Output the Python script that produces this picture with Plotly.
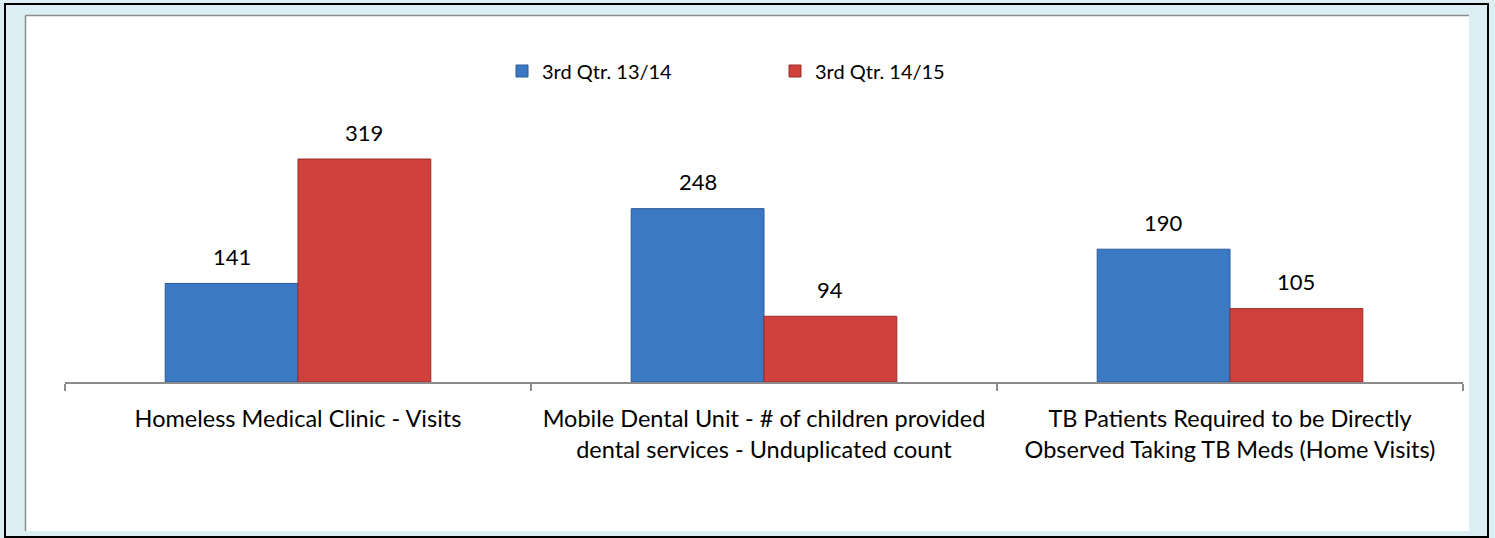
import plotly.graph_objects as go

categories = [
    "Homeless Medical Clinic - Visits",
    "Mobile Dental Unit - # of children provided<br>dental services - Unduplicated count",
    "TB Patients Required to be Directly<br>Observed Taking TB Meds (Home Visits)",
]
series_names = ["3rd Qtr. 13/14", "3rd Qtr. 14/15"]
values_1314 = [141, 248, 190]
values_1415 = [319, 94, 105]

colors = ["#3c79c4", "#d0403c"]
line_colors = ["#2a5a96", "#9c2c29"]

W, H = 1495, 538
ML, MR, MT, MB = 65, 32, 100, 156
PW = W - ML - MR
PH = H - MT - MB
BARGAP = 0.43
FONT = "Lato, Calibri, Carlito, sans-serif"
FS = 22

def px_x(p):
    return (p - ML) / PW

def px_y(p):
    return (H - MB - p) / PH

fig = go.Figure()
for name, vals, c, lc in zip(series_names, [values_1314, values_1415], colors, line_colors):
    fig.add_trace(go.Bar(
        name=name, x=categories, y=vals,
        marker=dict(color=c, line=dict(color=lc, width=1)),
    ))

# value labels above bars
cat_w = PW / len(categories)
bar_w = cat_w * (1 - BARGAP) / 2
for k, vals in enumerate([values_1314, values_1415]):
    shift = (k - 0.5) * bar_w
    for cat, v in zip(categories, vals):
        fig.add_annotation(x=cat, y=v, text=str(v), showarrow=False,
                           xshift=shift, yshift=27, yanchor="middle",
                           font=dict(family=FONT, size=FS, color="#000000"))

shapes = [
    dict(type="rect", xref="paper", yref="paper", x0=px_x(5), x1=px_x(1488),
         y0=px_y(537), y1=px_y(4), line=dict(color="#000000", width=2),
         fillcolor="#dbeef3", layer="below"),
    dict(type="rect", xref="paper", yref="paper", x0=px_x(25), x1=px_x(1469),
         y0=px_y(531), y1=px_y(15), line=dict(width=0),
         fillcolor="#ffffff", layer="below"),
    dict(type="line", xref="paper", yref="paper", x0=px_x(25.5), x1=px_x(25.5),
         y0=px_y(531), y1=px_y(15.5), line=dict(color="#8c8c8c", width=1.5), layer="below"),
    dict(type="line", xref="paper", yref="paper", x0=px_x(25.5), x1=px_x(1469),
         y0=px_y(15.5), y1=px_y(15.5), line=dict(color="#8c8c8c", width=1.5), layer="below"),
]

fig.update_layout(
    width=W, height=H,
    margin=dict(l=ML, r=MR, t=MT, b=MB),
    paper_bgcolor="#dbeef3",
    plot_bgcolor="rgba(0,0,0,0)",
    barmode="group",
    bargap=BARGAP,
    bargroupgap=0,
    shapes=shapes,
    font=dict(family=FONT, size=FS, color="#000000"),
    showlegend=True,
    legend=dict(orientation="h", x=px_x(502), xanchor="left", y=px_y(71), yanchor="middle",
                bgcolor="rgba(0,0,0,0)", font=dict(family=FONT, size=20),
                itemwidth=30, entrywidth=228, entrywidthmode="pixels",
                traceorder="normal"),
    xaxis=dict(showline=True, linecolor="#8c8c8c", linewidth=1.5,
               ticks="outside", tickson="boundaries", ticklen=7, tickcolor="#8c8c8c",
               tickwidth=1.5, ticklabelstandoff=15,
               tickfont=dict(family=FONT, size=23.5), showgrid=False),
    yaxis=dict(visible=False, range=[0, PH / 0.699], showgrid=False),
)

fig.write_html("out.html", config={"displayModeBar": False},
               post_script="document.body.style.margin='0';document.body.style.padding='0';")
